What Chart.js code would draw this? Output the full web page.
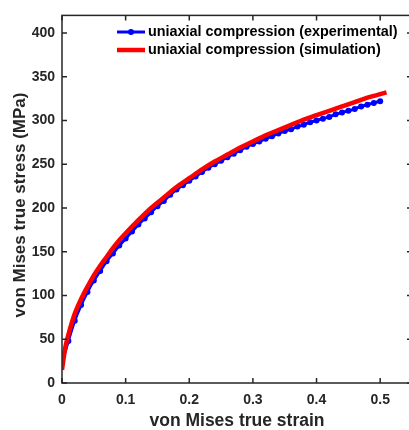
<!DOCTYPE html>
<html>
<head>
<meta charset="utf-8">
<script src="https://cdn.jsdelivr.net/npm/chart.js@4.4.1/dist/chart.umd.min.js"></script>
<style>
  html, body { margin: 0; padding: 0; background: #fff; overflow: hidden; }
  #wrap { width: 416px; height: 430px; position: relative; }
</style>
</head>
<body>
<div id="wrap"><canvas id="c"></canvas></div>
<script>
// ---------- data ----------
const seriesNames = ['uniaxial compression (experimental)', 'uniaxial compression (simulation)'];
const xTitle = 'von Mises true strain';
const yTitle = 'von Mises true stress (MPa)';

const expStrain = [0,0.01,0.02,0.03,0.04,0.05,0.06,0.07,0.08,0.09,0.10,0.11,0.12,0.13,0.14,0.15,0.16,0.17,0.18,0.19,0.20,
  0.21,0.22,0.23,0.24,0.25,0.26,0.27,0.28,0.29,0.30,0.31,0.32,0.33,0.34,0.35,0.36,0.37,0.38,0.39,0.40,
  0.41,0.42,0.43,0.44,0.45,0.46,0.47,0.48,0.49,0.50];
const expStress = [23,48,71,89,104,117,128,139,148,157,165,173,181,188,195,202,208,215,221,226,231,
  236,241,246,250,254,258,262,266,270,273,276,279,282,285,288,290,293,295,298,300,
  302,304,307,309,311,313,316,318,320,322];

const simStrain = [0,0.005,0.01,0.02,0.03,0.04,0.05,0.06,0.07,0.08,0.09,0.10,0.12,0.14,0.16,0.18,0.20,
  0.22,0.24,0.26,0.28,0.30,0.32,0.34,0.36,0.38,0.40,0.42,0.44,0.46,0.48,0.50,0.51];
const simStress = [15,40,55,79,96,110,123,134,144,154,163,171,186,200,212,224,234,
  244,253,261,269,276,283,289,295,301,306,311,316,321,326,330,332];

const xTicks = [0,0.1,0.2,0.3,0.4,0.5];
const yTicks = [0,50,100,150,200,250,300,350,400];
const xLabels = ['0','0.1','0.2','0.3','0.4','0.5'];
const yLabels = ['0','50','100','150','200','250','300','350','400'];

// ---------- styling ----------
const AX = '#262626';
const FONT = "'Liberation Sans', Arial, Helvetica, sans-serif";

const toXY = (xs, ys) => xs.map((x, i) => ({x: x, y: ys[i]}));

const frameTicks = {
  id: 'frameTicks',
  afterDraw(chart) {
    const {ctx, chartArea: a, scales: {x, y}} = chart;
    ctx.save();
    ctx.strokeStyle = AX;
    ctx.lineWidth = 1.5;
    ctx.strokeRect(a.left, a.top, a.right - a.left, a.bottom - a.top);
    const L = 5;
    ctx.beginPath();
    xTicks.forEach(v => {
      const px = x.getPixelForValue(v);
      ctx.moveTo(px, a.bottom); ctx.lineTo(px, a.bottom - L);
      ctx.moveTo(px, a.top); ctx.lineTo(px, a.top + L);
    });
    yTicks.forEach(v => {
      const py = y.getPixelForValue(v);
      ctx.moveTo(a.left, py); ctx.lineTo(a.left + L, py);
      ctx.moveTo(a.right, py); ctx.lineTo(a.right - L, py);
    });
    ctx.stroke();

    // y-axis title
    ctx.save();
    ctx.translate(20, 205);
    ctx.rotate(-Math.PI / 2);
    ctx.fillStyle = AX;
    ctx.font = "bold 17px " + FONT;
    ctx.textAlign = 'center';
    ctx.textBaseline = 'middle';
    ctx.fillText(yTitle, 0, 0);
    ctx.restore();

    // legend (inside, top-right, no box)
    const rows = [32, 50];
    const x0 = 117, x1 = 145;
    chart.data.datasets.forEach((ds, i) => {
      const yy = rows[i];
      ctx.strokeStyle = ds.borderColor;
      ctx.lineWidth = ds.borderWidth;
      ctx.beginPath(); ctx.moveTo(x0, yy); ctx.lineTo(x1, yy); ctx.stroke();
      if (ds.pointRadius > 0) {
        ctx.fillStyle = ds.pointBackgroundColor;
        ctx.beginPath(); ctx.arc((x0 + x1) / 2, yy, ds.pointRadius, 0, Math.PI * 2); ctx.fill();
      }
      ctx.fillStyle = '#000';
      ctx.font = "bold 14.4px " + FONT;
      ctx.textBaseline = 'middle';
      ctx.textAlign = 'left';
      ctx.fillText(ds.label, x1 + 3, yy);
    });
    ctx.restore();
  }
};

new Chart(document.getElementById('c'), {
  type: 'line',
  data: {
    datasets: [
      {
        label: seriesNames[0],
        data: toXY(expStrain, expStress),
        borderColor: '#0000ff',
        backgroundColor: '#0000ff',
        pointBackgroundColor: '#0000ff',
        pointBorderColor: '#0000ff',
        borderWidth: 3,
        pointRadius: 3,
        pointBorderWidth: 0,
        cubicInterpolationMode: 'monotone',
        order: 2
      },
      {
        label: seriesNames[1],
        data: toXY(simStrain, simStress),
        borderColor: '#ff0000',
        backgroundColor: '#ff0000',
        borderWidth: 4.5,
        pointRadius: 0,
        cubicInterpolationMode: 'monotone',
        order: 1
      }
    ]
  },
  options: {
    responsive: true,
    maintainAspectRatio: false,
    animation: false,
    devicePixelRatio: 1,
    layout: { padding: { top: 10, right: 3, left: 0, bottom: 0 } },
    plugins: { legend: { display: false }, tooltip: { enabled: false } },
    scales: {
      x: {
        type: 'linear', min: 0, max: 0.55,
        afterFit(s) { s.height = 47; },
        afterBuildTicks(s) { s.ticks = xTicks.map(v => ({value: v})); },
        grid: { display: false, drawTicks: false },
        border: { display: false },
        ticks: {
          padding: 9, color: AX,
          font: { family: FONT, size: 14, weight: 'bold' },
          callback: (v) => { const i = xTicks.indexOf(v); return i >= 0 ? xLabels[i] : ''; }
        },
        title: {
          display: true, text: xTitle, color: AX,
          font: { family: FONT, size: 17.5, weight: 'bold', lineHeight: 1 },
          padding: { top: 0, bottom: 0 }
        }
      },
      y: {
        type: 'linear', min: 0, max: 420,
        afterFit(s) { s.width = 62; },
        afterBuildTicks(s) { s.ticks = yTicks.map(v => ({value: v})); },
        grid: { display: false, drawTicks: false },
        border: { display: false },
        ticks: {
          padding: 7, color: AX,
          font: { family: FONT, size: 14, weight: 'bold' },
          callback: (v) => { const i = yTicks.indexOf(v); return i >= 0 ? yLabels[i] : ''; }
        },
        title: { display: false }
      }
    }
  },
  plugins: [frameTicks]
});
</script>
</body>
</html>
